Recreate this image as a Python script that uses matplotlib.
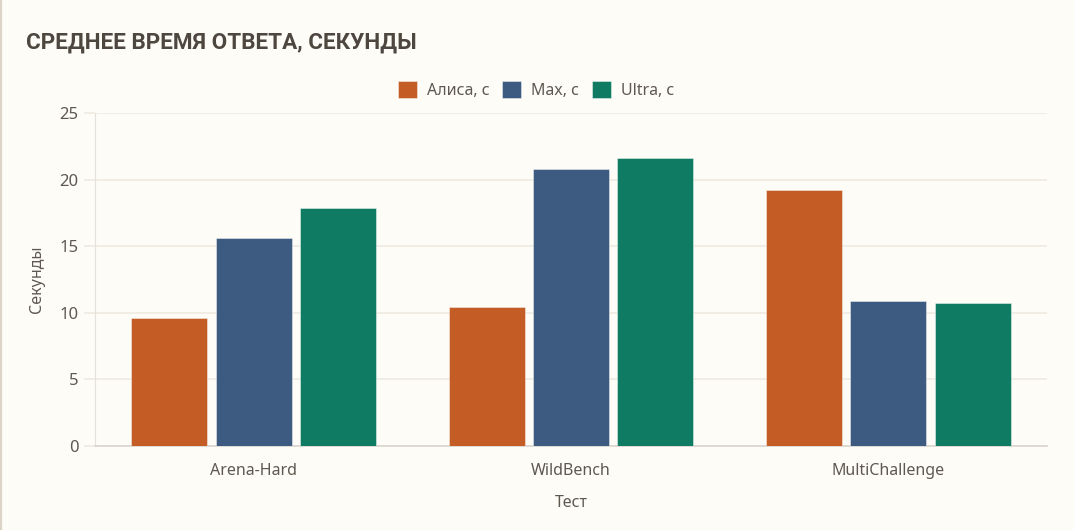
import numpy as np
import matplotlib
matplotlib.use("Agg")
import matplotlib.pyplot as plt

# Данные
tests = ["Arena-Hard", "WildBench", "MultiChallenge"]
series = ["Алиса, с", "Max, с", "Ultra, с"]
alice = [9.6, 10.4, 19.2]
max_s = [15.6, 20.8, 10.9]
ultra = [17.9, 21.6, 10.7]
colors = ["#C45C26", "#3D5A80", "#0F7B63"]
yticks = [0, 5, 10, 15, 20, 25]

plt.rcParams['font.family'] = ['Noto Sans', 'DejaVu Sans']

bg = "#FEFCF7"
text_col = "#5E5850"
grid_col = "#EFEAE2"

fig = plt.figure(figsize=(10.74, 5.3), dpi=100, facecolor=bg)
ax = fig.add_axes([95 / 1074, 84 / 530, 952 / 1074, 333 / 530])
ax.set_facecolor(bg)

x = np.arange(len(tests))
width = 0.24
step = 0.266
for i, (vals, name) in enumerate(zip([alice, max_s, ultra], series)):
    ax.bar(x + (i - 1) * step, vals, width, color=colors[i], label=name,
           edgecolor=(1, 1, 1, 0.5), linewidth=0.6, zorder=3)

ax.set_xlim(-0.5, 2.5)
ax.set_ylim(0, 25)
ax.set_yticks(yticks)
ax.set_xticks(x)
ax.set_xticklabels(tests)
ax.grid(axis='y', color=grid_col, linewidth=1.2, zorder=0)
ax.tick_params(axis='y', length=8, color=grid_col, width=1.2,
               labelsize=12, labelcolor=text_col, pad=4)
ax.tick_params(axis='x', length=0, labelsize=11.5, labelcolor=text_col, pad=12)

for s in ['top', 'right']:
    ax.spines[s].set_visible(False)
ax.spines['left'].set_color("#E6E1D9")
ax.spines['bottom'].set_color("#D9D4CC")
ax.spines['bottom'].set_linewidth(1.2)

ax.set_ylabel("Секунды", fontsize=11.5, color=text_col, labelpad=10)
ax.set_xlabel("Тест", fontsize=11.5, color=text_col, labelpad=12)

fig.text(26 / 1074, 1 - 43 / 530, "СРЕДНЕЕ ВРЕМЯ ОТВЕТА, СЕКУНДЫ", fontsize=16.2,
         fontweight='bold', family=['Roboto', 'DejaVu Sans'], color="#4D473F",
         va='center', ha='left')

leg = fig.legend(loc='center', bbox_to_anchor=(536 / 1074, 1 - 90 / 530), ncol=3,
                 frameon=False, fontsize=11.5, handlelength=1.2, handleheight=1.2,
                 handletextpad=0.6, columnspacing=0.8, labelcolor=text_col)

# тонкая рамка слева
fig.add_artist(plt.Line2D([0.001, 0.001], [0, 1], color="#DCD5C6", linewidth=1.6,
                          transform=fig.transFigure))

fig.savefig("out.png", dpi=100, facecolor=bg)
